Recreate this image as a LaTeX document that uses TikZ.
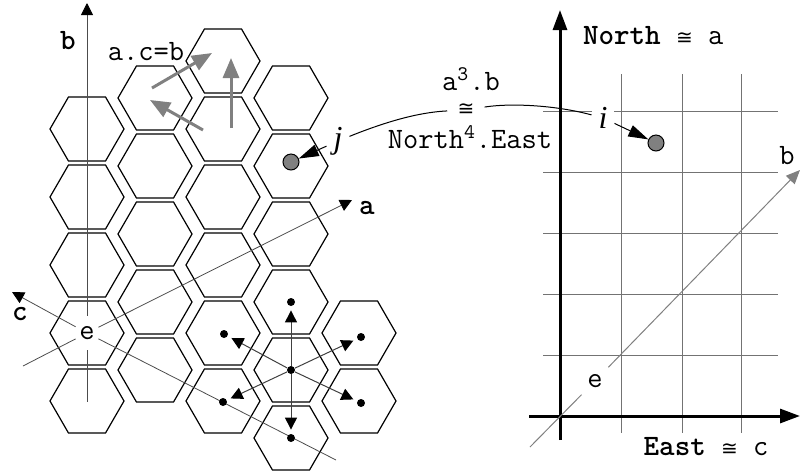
\documentclass[tikz,border=0pt]{standalone}
\usepackage{fontspec}
\setmainfont{Liberation Serif}
\newfontfamily\symfont{DejaVu Sans}
\newcommand{\iso}{{\symfont\fontsize{10}{12}\selectfont ≅}}
\usepackage{tikz}
\usetikzlibrary{shapes.geometric,arrows.meta}

\begin{document}
\begin{tikzpicture}[x=0.5pt, y=-0.5pt,
  font=\ttfamily\fontsize{14.8}{17}\selectfont,
  hexa/.style={shape=regular polygon, regular polygon sides=6, draw, line width=0.6pt, minimum size=37pt, inner sep=0pt},
  smalldot/.style={shape=circle, fill, inner sep=0pt, minimum size=4pt},
  bigdot/.style={shape=circle, draw, fill=gray, line width=0.5pt, inner sep=0pt, minimum size=8pt},
  elab/.style={inner sep=0pt, minimum width=11pt, minimum height=17pt},
  ital/.style={font=\rmfamily\itshape\fontsize{16}{18}\selectfont},
  axisline/.style={black!70, line width=0.4pt},
  arr/.style={-{Triangle[length=6pt,width=6pt,color=black]}},
  move/.style={-{Triangle[length=6pt,width=6pt,color=black]}, black!75, line width=0.5pt, shorten >=2pt},
  gen/.style={-{Triangle[length=10pt,width=8pt]}, gray, line width=1.5pt},
  gridline/.style={black!55, line width=0.5pt}]
\useasboundingbox (0,0) rectangle (800,473);

% hexagons, column by column
\foreach \x/\y [count=\n] in {87/129,87/197,87/265,87/333,87/401,
    155/98,155/166,155/234,155/302,155/370,
    223/61,223/129,223/197,223/265,223/333,223/401,
    291/98,291/166,291/234,291/302,291/370,291/438,
    359/333,359/401}
  \node[hexa] (h\n) at (\x,\y) {};

% generators a.c=b
\node (acb) at (146,52) {a.c=b};
\coordinate (ga0) at (152,88);  \coordinate (ga1) at (212,53);
\coordinate (gc0) at (203,130); \coordinate (gc1) at (150,100);
\coordinate (gb0) at (231,128); \coordinate (gb1) at (231,58);
\draw[gen] (ga0) -- (ga1);
\draw[gen] (gc0) -- (gc1);
\draw[gen] (gb0) -- (gb1);

% axes through e
\node[elab] (e) at (87,333) {e};
\coordinate (btop) at (87,3);    \coordinate (bbot) at (87,402);
\coordinate (atop) at (352,200); \coordinate (abot) at (23,366);
\coordinate (ctop) at (12,292);  \coordinate (cbot) at (336,460);
\draw[axisline,arr] (e) -- (btop);
\draw[axisline] (e) -- (bbot);
\draw[axisline,arr] (e) -- (atop);
\draw[axisline] (e) -- (abot);
\draw[axisline,arr] (e) -- (ctop);
\draw[axisline] (e) -- (cbot);
\node (blab) at (68,41) {\textbf{b}};
\node (alab) at (367,208) {\textbf{a}};
\node (clab) at (20,314) {\textbf{c}};

% neighbours of one cell
\node[smalldot] (o) at (291,370) {};
\node[smalldot] (nup) at (291,302) {};
\node[smalldot] (ndown) at (291,438) {};
\node[smalldot] (nul) at (224,334) {};
\node[smalldot] (nll) at (223,402) {};
\node[smalldot] (nur) at (361,337) {};
\node[smalldot] (nlr) at (361,403) {};
\foreach \t in {nup,ndown,nul,nll,nur,nlr}
  \draw[move] (o) -- (\t);

% square grid
\foreach \x in {621,682,741}
  \draw[gridline] (\x,74) -- (\x,433);
\foreach \y in {111,172,233,294,355}
  \draw[gridline] (543,\y) -- (778,\y);
\coordinate (ntop) at (560,10);   \coordinate (nbot) at (560,440);
\coordinate (eright) at (800,416); \coordinate (eleft) at (529,416);
\draw[line width=1.5pt, -{Triangle[length=10pt,width=7pt]}] (nbot) -- (ntop);
\draw[line width=1.5pt, -{Triangle[length=10pt,width=7pt]}] (eleft) -- (eright);
\node[anchor=west] (nlab) at (576,36) {\textbf{North} \iso{} a};
\node (eastlab) at (706,447) {\textbf{East} \iso{} c};

\node[elab, minimum width=13pt] (e2) at (595,381) {e};
\coordinate (dlow) at (530,447); \coordinate (dtop) at (800,170);
\draw[gray, line width=0.5pt] (dlow) -- (e2);
\draw[gray, line width=0.5pt, -{Triangle[length=7pt,width=6pt]}] (e2) -- (dtop);
\node (b2lab) at (787,156) {b};

% the same cell on both sides
\node[bigdot] (jdot) at (291,162) {};
\node[bigdot] (idot) at (656,143) {};
\node[ital] (j) at (338,141) {j};
\node[ital, fill=white] (i) at (603,118) {i};
\draw[line width=0.5pt, -{Triangle[length=10pt,width=6pt]}] (j) -- (jdot);
\draw[line width=0.5pt, -{Triangle[length=10pt,width=6pt]}] (i) -- (idot);

\node (pa) at (471,79) {a\textsuperscript{3}.b};
\node[inner sep=0pt] (eq) at (466,110) {\iso};
\node (pn) at (470,137) {North\textsuperscript{4}.East};
\draw[line width=0.5pt, shorten >=5pt] (j) .. controls (395,118) and (425,112) .. (eq);
\draw[line width=0.5pt, shorten <=5pt] (eq) .. controls (510,103) and (555,105) .. (i);
\end{tikzpicture}
\end{document}
